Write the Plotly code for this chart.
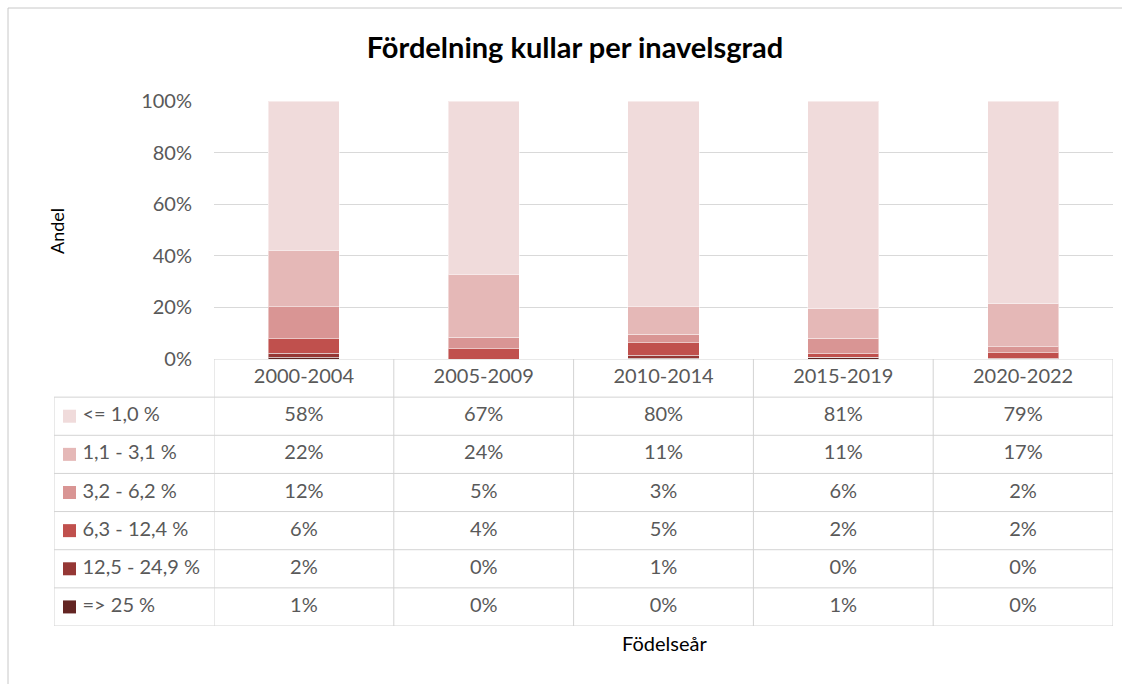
import plotly.graph_objects as go

categories = ["2000-2004", "2005-2009", "2010-2014", "2015-2019", "2020-2022"]
series_names = ["<= 1,0 %", "1,1 - 3,1 %", "3,2 - 6,2 %", "6,3 - 12,4 %", "12,5 - 24,9 %", "=> 25 %"]
# share in percent per period (estimated from bars, consistent with table)
v_le_1_0 = [57.8, 67.2, 79.6, 80.6, 78.6]
v_1_1_3_1 = [21.9, 24.3, 10.8, 11.3, 16.6]
v_3_2_6_2 = [12.4, 4.6, 3.3, 5.8, 2.4]
v_6_3_12_4 = [5.7, 3.9, 4.9, 1.6, 2.2]
v_12_5_24_9 = [1.6, 0.0, 1.2, 0.1, 0.2]
v_ge_25 = [0.6, 0.0, 0.2, 0.6, 0.0]
series_values = [v_le_1_0, v_1_1_3_1, v_3_2_6_2, v_6_3_12_4, v_12_5_24_9, v_ge_25]
colors = ["#f0dbdb", "#e5b8b7", "#d99594", "#c0504d", "#953735", "#632523"]
y_ticks = [0, 20, 40, 60, 80, 100]
y_tick_labels = ["0%", "20%", "40%", "60%", "80%", "100%"]

W, H = 1124, 684
def px(x):
    return x / W
def py(y):
    return 1 - y / H

FONT = "Lato, Carlito, 'Open Sans', sans-serif"
TXT = "#595959"
GRID = "#d9d9d9"
TBL = "#d3d3d3"

fig = go.Figure()

# stacked bars, bottom first
for name, vals, col in reversed(list(zip(series_names, series_values, colors))):
    fig.add_trace(go.Bar(x=categories, y=vals, name=name, marker=dict(color=col, line=dict(color="rgba(255,255,255,0.45)", width=1)),
                         xaxis="x", yaxis="y", hoverinfo="skip"))

# table header
fig.add_trace(go.Scatter(x=categories, y=[0] * len(categories), text=categories, mode="text",
                         textfont=dict(family=FONT, size=20, color=TXT), xaxis="x2", yaxis="y2", hoverinfo="skip"))
# table values
for i, vals in enumerate(series_values):
    fig.add_trace(go.Scatter(x=categories, y=[i + 1] * len(categories), text=["%.0f%%" % v for v in vals], mode="text",
                             textfont=dict(family=FONT, size=20, color=TXT), xaxis="x2", yaxis="y2", hoverinfo="skip"))

# legend keys in table
rows = list(range(1, len(series_names) + 1))
fig.add_trace(go.Scatter(x=[0.097] * len(rows), y=rows, mode="markers",
                         marker=dict(symbol="square", size=13, color=colors, line=dict(width=0)),
                         xaxis="x3", yaxis="y2", hoverinfo="skip"))
fig.add_trace(go.Scatter(x=[0.178] * len(rows), y=rows, mode="text", text=series_names, textposition="middle right",
                         textfont=dict(family=FONT, size=20, color=TXT), xaxis="x3", yaxis="y2", hoverinfo="skip"))

shapes = []
line = dict(color=TBL, width=1)
n = len(categories)
nr = len(series_names)
# top of header
shapes.append(dict(type="line", xref="x2", yref="y2", x0=-0.5, x1=n - 0.5, y0=-0.5, y1=-0.5, line=line))
# row boundaries
for k in range(nr + 1):
    shapes.append(dict(type="line", xref="paper", yref="y2", x0=px(54), x1=px(1113), y0=k + 0.5, y1=k + 0.5, line=line))
# column boundaries
for j in range(n + 1):
    shapes.append(dict(type="line", xref="x2", yref="y2", x0=j - 0.5, x1=j - 0.5, y0=-0.5, y1=nr + 0.5, line=line))
# left border of legend column
shapes.append(dict(type="line", xref="x3", yref="y2", x0=0, x1=0, y0=0.5, y1=nr + 0.5, line=line))
# chart area border (left & top visible)
shapes.append(dict(type="line", xref="paper", yref="paper", x0=px(8), x1=px(8), y0=0, y1=py(8), line=dict(color="#c8c8c8", width=1)))
shapes.append(dict(type="line", xref="paper", yref="paper", x0=px(8), x1=px(1122), y0=py(8), y1=py(8), line=dict(color="#c8c8c8", width=1)))

fig.update_layout(
    width=W, height=H,
    margin=dict(l=0, r=0, t=0, b=0, autoexpand=False),
    paper_bgcolor="white", plot_bgcolor="white",
    barmode="stack", bargap=0.605,
    showlegend=False,
    font=dict(family=FONT, color=TXT),
    title=dict(text="<b>Fördelning kullar per inavelsgrad</b>", x=px(575), y=py(48), xref="paper", yref="paper",
               xanchor="center", yanchor="middle", font=dict(family=FONT, size=29, color="#000000")),
    xaxis=dict(domain=[px(214), px(1113)], anchor="y", showticklabels=False, showgrid=False, zeroline=False,
               range=[-0.5, n - 0.5], fixedrange=True),
    yaxis=dict(domain=[py(359), py(101)], anchor="x", range=[0, 100], tickmode="array", tickvals=y_ticks, ticktext=y_tick_labels,
               showgrid=True, gridcolor=GRID, gridwidth=1, zeroline=False, showline=False, automargin=False,
               tickfont=dict(family=FONT, size=20, color=TXT), ticks="", ticklen=0, ticklabelstandoff=21),
    xaxis2=dict(domain=[px(214), px(1113)], anchor="y2", matches="x", showticklabels=False, showgrid=False, zeroline=False),
    yaxis2=dict(domain=[py(626), py(359)], anchor="x2", range=[nr + 0.5, -0.5], showticklabels=False, showgrid=False, zeroline=False),
    xaxis3=dict(domain=[px(54), px(214)], anchor="y2", range=[0, 1], showticklabels=False, showgrid=False, zeroline=False),
    shapes=shapes,
    annotations=[
        dict(text="Andel", x=px(57), y=py(231), xref="paper", yref="paper", textangle=-90, showarrow=False,
             font=dict(family=FONT, size=18, color="#000000"), xanchor="center", yanchor="middle"),
        dict(text="Födelseår", x=px(664), y=py(643), xref="paper", yref="paper", showarrow=False,
             font=dict(family=FONT, size=20, color="#000000"), xanchor="center", yanchor="middle"),
    ],
)

fig.write_html("out.html", config={"displayModeBar": False},
               post_script="document.body.style.margin='0';document.body.style.padding='0';")
